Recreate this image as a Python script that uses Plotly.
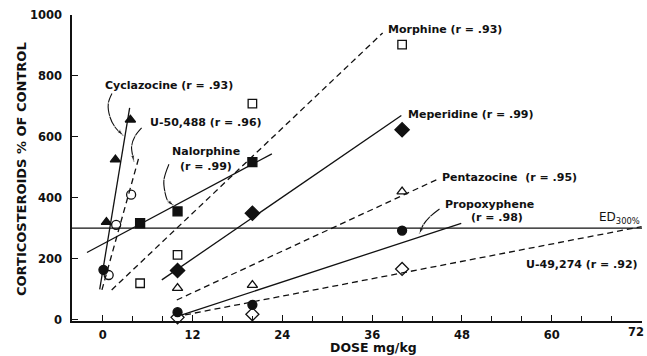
import plotly.graph_objects as go

# ---------------- data ----------------
cyclazocine_x = [0.1, 0.5, 1.7, 3.7]
cyclazocine_y = [163, 320, 525, 656]
u50488_x = [0.8, 1.8, 3.8]
u50488_y = [146, 311, 410]
nalorphine_x = [5, 10, 20]
nalorphine_y = [316, 355, 517]
morphine_x = [5, 10, 20, 40]
morphine_y = [119, 212, 709, 903]
meperidine_x = [10, 20, 40]
meperidine_y = [161, 349, 623]
pentazocine_x = [10, 20, 40]
pentazocine_y = [103, 113, 420]
propoxyphene_x = [10, 20, 40]
propoxyphene_y = [24, 48, 292]
u49274_x = [10, 20, 40]
u49274_y = [7, 17, 166]

# regression line end points ([x0, x1], [y0, y1])
fit_cyclazocine = ([-0.4, 3.6], [99, 695])
fit_u50488 = ([-0.1, 4.9], [97, 538])
fit_nalorphine = ([-2.1, 22.6], [220, 544])
fit_morphine = ([1.2, 37.4], [97, 941])
fit_meperidine = ([7.9, 39.9], [130, 670])
fit_pentazocine = ([9.9, 44.6], [64, 459])
fit_propoxyphene = ([10.6, 47.9], [15, 316])
fit_u49274 = ([11.0, 72.0], [15, 305])

ed300 = 300
x_ticks = [0, 12, 24, 36, 48, 60, 72]
y_ticks = [0, 200, 400, 600, 800, 1000]

FONT = "DejaVu Sans"
BLACK = "#111111"

fig = go.Figure()

def fit(xy, dashed):
    fig.add_trace(go.Scatter(
        x=xy[0], y=xy[1], mode="lines",
        line=dict(color=BLACK, width=1.3, dash="6px,4px" if dashed else "solid"),
        hoverinfo="skip", showlegend=False))

fit(fit_cyclazocine, False)
fit(fit_u50488, True)
fit(fit_nalorphine, False)
fit(fit_morphine, True)
fit(fit_meperidine, False)
fit(fit_pentazocine, True)
fit(fit_propoxyphene, False)
fit(fit_u49274, True)

def pts(x, y, symbol, size):
    fig.add_trace(go.Scatter(
        x=x, y=y, mode="markers", cliponaxis=False,
        marker=dict(symbol=symbol, size=size, color=BLACK,
                    line=dict(color=BLACK, width=1.3)),
        showlegend=False))

pts(cyclazocine_x, cyclazocine_y,
    ["circle", "triangle-up", "triangle-up", "triangle-up"], 9)
pts(u50488_x, u50488_y, "circle-open", 9)
pts(nalorphine_x, nalorphine_y, "square", 9)
pts(morphine_x, morphine_y, "square-open", 8.5)
pts(meperidine_x, meperidine_y, "diamond", 11)
pts(pentazocine_x, pentazocine_y, "triangle-up-open", 9)
pts(propoxyphene_x, propoxyphene_y, "circle", 9)
pts(u49274_x, u49274_y, "diamond-open", 10)

# curved leader lines for labels
leaders = [
    ([1.24, 0.75, 0.97, 1.64, 2.75], [742, 709, 665, 632, 604]),
    ([5.2, 4.3, 3.86, 4.07, 4.16], [629, 601, 569, 530, 518]),
    ([8.85, 8.18, 8.32, 8.72, 9.52], [510, 458, 418, 389, 374]),
    ([45.0, 43.7, 42.8, 42.3], [363, 337, 310, 281]),
]
for lx, ly in leaders:
    n = len(lx)
    fig.add_trace(go.Scatter(
        x=lx, y=ly, mode="lines+markers",
        line=dict(color=BLACK, width=1.1, shape="spline"),
        marker=dict(symbol="arrow", size=[1] * (n - 1) + [7], color=BLACK,
                    angleref="previous"),
        hoverinfo="skip", showlegend=False))

fig.add_shape(type="line", xref="paper", x0=0, x1=1, yref="y", y0=ed300, y1=ed300,
              line=dict(color=BLACK, width=1.3))

labels = [
    ("Cyclazocine (r = .93)", 0.08, 770, "left"),
    ("U-50,488 (r = .96)", 6.06, 646, "left"),
    ("Nalorphine", 9.0, 551, "left"),
    ("(r = .99)", 10.05, 502, "left"),
    ("Morphine (r = .93)", 37.9, 951, "left"),
    ("Meperidine (r = .99)", 40.5, 672, "left"),
    ("Pentazocine  (r = .95)", 45.1, 467, "left"),
    ("Propoxyphene", 45.4, 378, "left"),
    ("(r = .98)", 48.9, 335, "left"),
    ("U-49,274 (r = .92)", 71.8, 182, "right"),
]
for t, x, y, anc in labels:
    fig.add_annotation(x=x, y=y, text=t, showarrow=False, xanchor=anc, yanchor="middle",
                       font=dict(family=FONT, size=11, color=BLACK, weight="bold"))
fig.add_annotation(x=72, y=333, text="ED<sub>300%</sub>", showarrow=False,
                   xanchor="right", yanchor="middle",
                   font=dict(family=FONT, size=12, color=BLACK))

# last x tick label kept inside the page edge
fig.add_annotation(x=x_ticks[-1], xref="x", yref="paper", y=(321 - 332) / 306,
                   text=str(x_ticks[-1]), showarrow=False, xanchor="right",
                   yanchor="middle", xshift=4,
                   font=dict(family=FONT, size=11.5, color=BLACK, weight="bold"))

# axis titles
fig.add_annotation(xref="paper", yref="paper", x=(373 - 72) / 570, y=(321 - 347) / 306,
                   text="DOSE mg/kg", showarrow=False, xanchor="center", yanchor="middle",
                   font=dict(family=FONT, size=12.5, color=BLACK, weight="bold"))
fig.add_annotation(xref="paper", yref="paper", x=(21 - 72) / 570, y=(321 - 169) / 306,
                   text="CORTICOSTEROIDS % OF CONTROL", showarrow=False, textangle=-90,
                   xanchor="center", yanchor="middle",
                   font=dict(family=FONT, size=13, color=BLACK, weight="bold"))

fig.update_layout(
    width=647, height=356,
    margin=dict(l=72, r=5, t=15, b=35),
    paper_bgcolor="white", plot_bgcolor="white",
    font=dict(family=FONT, color=BLACK),
    xaxis=dict(range=[-4.1, 72.05], tickvals=x_ticks[:-1], ticks="inside", ticklen=6,
               tickwidth=1.2, tickcolor=BLACK, showline=True, linecolor=BLACK,
               linewidth=1.5, showgrid=False, zeroline=False, automargin=False,
               minor=dict(dtick=4, tick0=0, ticks="inside", ticklen=5, tickcolor=BLACK,
                          tickwidth=1.1, showgrid=False),
               tickfont=dict(family=FONT, size=11.5, color=BLACK, weight="bold"),
               ticklabelstandoff=2),
    yaxis=dict(range=[-5, 1000], tickvals=y_ticks, ticks="inside", ticklen=6,
               tickwidth=1.2, tickcolor=BLACK, showline=True, linecolor=BLACK,
               linewidth=1.5, showgrid=False, zeroline=False, automargin=False,
               tickfont=dict(family=FONT, size=11.5, color=BLACK, weight="bold"),
               ticklabelstandoff=6),
)

fig.write_html("out.html", config={"displayModeBar": False},
               post_script="document.body.style.margin='0px';"
                           "document.body.style.padding='0px';")
